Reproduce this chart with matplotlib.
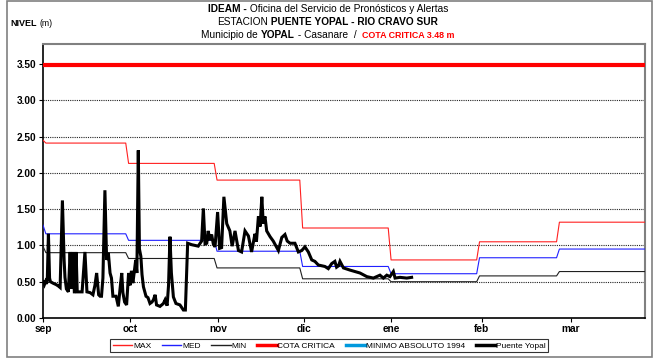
import matplotlib
matplotlib.use("Agg")
import matplotlib.pyplot as plt
import numpy as np
from matplotlib.offsetbox import TextArea, HPacker, AnchoredOffsetbox
from matplotlib.patches import Rectangle

plt.rcParams['font.family'] = ['Liberation Sans', 'DejaVu Sans']

# ---- data -------------------------------------------------------------
# month lengths from September to March (days)
month_days = [30, 31, 30, 31, 31, 28, 31]
month_labels = ["sep", "oct", "nov", "dic", "ene", "feb", "mar"]
tick_days = [0, 30.5, 61.3, 91.5, 122, 153.8, 185]

# historical monthly levels (m): first value = Sep 1, then one per month
max_start, max_levels = 2.45, [2.41, 2.13, 1.90, 1.24, 0.80, 1.05, 1.32]
med_start, med_levels = 1.28, [1.16, 1.07, 0.92, 0.71, 0.61, 0.83, 0.95]
min_start, min_levels = 0.99, [0.90, 0.82, 0.69, 0.54, 0.50, 0.58, 0.64]
cota_critica = 3.48
minimo_absoluto = []  # no values plotted in this window

# observed stage at Puente Yopal: days since Sep 1 and level (m)
obs_day = [0.1, 0.5, 0.9, 1.2, 1.5, 1.9, 2.3, 2.6, 3.5, 4.6, 5.4, 6.0, 6.8, 7.4,
           7.7, 8.2, 8.9, 9.5, 10.0, 10.5, 11.0, 11.6, 12.0, 12.6, 13.7, 14.7,
           15.4, 16.5, 17.5, 18.2, 18.8, 19.5, 20.0, 20.5, 21.0, 21.7, 22.3,
           22.9, 23.5, 24.0, 24.5, 25.6, 26.4, 27.0, 27.6, 28.0, 28.6, 29.3,
           30.0, 30.5, 31.0, 31.5, 32.5, 32.9, 33.4, 33.8, 34.3, 34.7, 35.2,
           36.1, 36.8, 37.5, 38.2, 38.7, 39.3, 39.8, 41.0, 42.2, 42.8, 43.5,
           44.0, 44.5, 45.0, 45.7, 46.6, 48.0, 49.2, 49.9, 50.7, 52.1, 53.3,
           54.4, 55.6, 56.2, 56.8, 57.4, 57.9, 58.5, 59.1, 59.7, 60.3, 61.2,
           61.9, 62.6, 63.4, 64.4, 65.5, 66.3, 67.3, 68.5, 69.6, 70.8, 72.0,
           73.1, 74.3, 74.8, 75.5, 76.1, 76.7, 77.2, 77.8, 78.4, 79.6, 80.7,
           82.5, 83.7, 84.8, 85.6, 86.6, 88.3, 89.5, 90.7, 91.8, 93.0, 94.2,
           95.3, 96.5, 97.7, 98.8, 100.0, 101.2, 102.3, 102.9, 103.6, 104.1,
           105.3, 107.6, 111.1, 113.5, 115.8, 118.1, 119.3, 120.5, 121.6,
           122.8, 123.4, 125.1, 127.5, 129.2]
obs_level = [0.50, 0.46, 0.50, 0.47, 0.52, 1.16, 0.55, 0.50, 0.48, 0.46, 0.44,
             0.42, 1.62, 0.80, 0.56, 0.40, 0.36, 0.91, 0.40, 0.91, 0.34, 0.91,
             0.36, 0.36, 0.36, 0.91, 0.36, 0.35, 0.32, 0.45, 0.62, 0.32, 0.30,
             0.30, 0.55, 1.76, 0.80, 0.90, 0.62, 0.55, 0.30, 0.30, 0.16, 0.40,
             0.62, 0.35, 0.22, 0.18, 0.62, 0.45, 0.65, 0.48, 0.80, 0.62, 2.31,
             0.95, 0.85, 0.60, 0.43, 0.30, 0.28, 0.20, 0.22, 0.25, 0.32, 0.18,
             0.16, 0.20, 0.25, 0.17, 0.45, 1.12, 0.62, 0.29, 0.20, 0.18, 0.11,
             0.11, 1.03, 1.01, 1.00, 0.99, 1.06, 1.51, 1.02, 1.03, 1.20, 1.07,
             1.15, 1.02, 0.98, 1.46, 0.96, 0.97, 1.67, 1.30, 1.20, 0.99, 1.20,
             0.93, 0.91, 1.20, 1.13, 0.91, 1.16, 1.05, 1.40, 1.26, 1.67, 1.30,
             1.40, 1.20, 1.12, 1.06, 0.93, 1.11, 1.15, 1.06, 1.03, 1.03, 0.91,
             0.93, 0.98, 0.91, 0.80, 0.78, 0.73, 0.72, 0.71, 0.68, 0.75, 0.78,
             0.70, 0.72, 0.78, 0.69, 0.66, 0.62, 0.57, 0.55, 0.59, 0.55, 0.59,
             0.57, 0.64, 0.55, 0.56, 0.55, 0.56]


def daily_series(start, levels):
    vals = np.repeat(levels, month_days).astype(float)
    vals[0] = start
    return vals


days = np.arange(sum(month_days))
max_daily = daily_series(max_start, max_levels)
med_daily = daily_series(med_start, med_levels)
min_daily = daily_series(min_start, min_levels)

# ---- figure -----------------------------------------------------------
fig = plt.figure(figsize=(6.56, 3.60), dpi=100)
fig.patch.set_facecolor("white")
ax = fig.add_axes([43 / 656, 1 - 318 / 360, (645 - 43) / 656, (318 - 44) / 360])

# chart-area frame
fig.add_artist(Rectangle((7 / 656, 1 - 357 / 360), (652 - 7) / 656, (357 - 1) / 360,
                         transform=fig.transFigure, fill=False,
                         edgecolor="#808080", linewidth=1.2, zorder=0))

ax.set_xlim(0, 211)
ax.set_ylim(0, 3.775)
ax.set_yticks(np.arange(0, 3.51, 0.5))
ax.set_yticklabels([f"{v:.2f}" for v in np.arange(0, 3.51, 0.5)])
ax.set_xticks(tick_days)
ax.set_xticklabels(month_labels)

for v in np.arange(0.5, 3.51, 0.5):
    ax.axhline(v, color="#222222", linestyle=(0, (1, 1)), linewidth=0.8, zorder=1)

ax.plot(days, max_daily, color="#ff2020", linewidth=0.8, zorder=3, label="MAX")
ax.plot(days, med_daily, color="#2020ff", linewidth=0.8, zorder=3, label="MED")
ax.plot(days, min_daily, color="#202020", linewidth=0.8, zorder=3, label="MIN")
ax.axhline(cota_critica, color="#ff0000", linewidth=3.0, zorder=4, label="COTA CRITICA")
ax.plot(minimo_absoluto, minimo_absoluto, color="#0099dd", linewidth=2.5,
        label="MINIMO ABSOLUTO 1994")
ax.plot(obs_day, obs_level, color="black", linewidth=2.2, zorder=5,
        solid_joinstyle="miter", label="Puente Yopal")

for side in ("left", "bottom"):
    ax.spines[side].set_color("black")
    ax.spines[side].set_linewidth(1.2)
for side in ("top", "right"):
    ax.spines[side].set_color("#808080")
    ax.spines[side].set_linewidth(1.5)

ax.tick_params(axis="both", direction="out", length=3, width=0.8, colors="black",
               labelsize=7.3)
ax.tick_params(axis="y", pad=2)
ax.tick_params(axis="x", pad=1)
for lab in ax.get_yticklabels() + ax.get_xticklabels():
    lab.set_fontweight("bold")

leg = ax.legend(loc="center", bbox_to_anchor=(0.502, 0.040),
                bbox_transform=fig.transFigure, ncol=6, fontsize=6.0,
                frameon=True, fancybox=False, handlelength=2.3, handletextpad=0.1,
                columnspacing=1.3, borderpad=0.3, borderaxespad=0)
leg.get_frame().set_edgecolor("black")
leg.get_frame().set_linewidth(0.8)
for line in leg.get_lines():
    line.set_linewidth(1.0 if line.get_label() in ("MAX", "MED", "MIN") else 2.5)


# ---- titles -----------------------------------------------------------
def mixed_line(parts, y, size=7.3):
    boxes = []
    for txt, weight, color, fs in parts:
        boxes.append(TextArea(txt, textprops=dict(fontsize=fs if fs else size,
                                                  fontweight=weight, color=color)))
    pack = HPacker(children=boxes, align="baseline", pad=0, sep=0)
    anch = AnchoredOffsetbox(loc="center", child=pack, pad=0, borderpad=0,
                             frameon=False, bbox_to_anchor=(0.5, y),
                             bbox_transform=fig.transFigure)
    fig.add_artist(anch)


mixed_line([("IDEAM -", "bold", "black", None),
            (" Oficina del Servicio de Pronósticos y Alertas", "normal", "black", None)],
           1 - 9.5 / 360)
mixed_line([("ESTACION", "normal", "black", None),
            (" PUENTE YOPAL - RIO CRAVO SUR", "bold", "black", None)],
           1 - 22 / 360)
mixed_line([("Municipio de ", "normal", "black", None),
            ("YOPAL", "bold", "black", None),
            (" - Casanare  /  ", "normal", "black", None),
            ("COTA CRITICA 3.48 m", "bold", "#ff0000", 6.4)],
           1 - 34.5 / 360)

fig.text(10 / 656, 1 - 24 / 360, "NIVEL", fontsize=6.5, fontweight="bold",
         ha="left", va="center")
fig.text(39 / 656, 1 - 24 / 360, "(m)", fontsize=6.2, ha="left", va="center")

fig.savefig("out.png", dpi=100)
